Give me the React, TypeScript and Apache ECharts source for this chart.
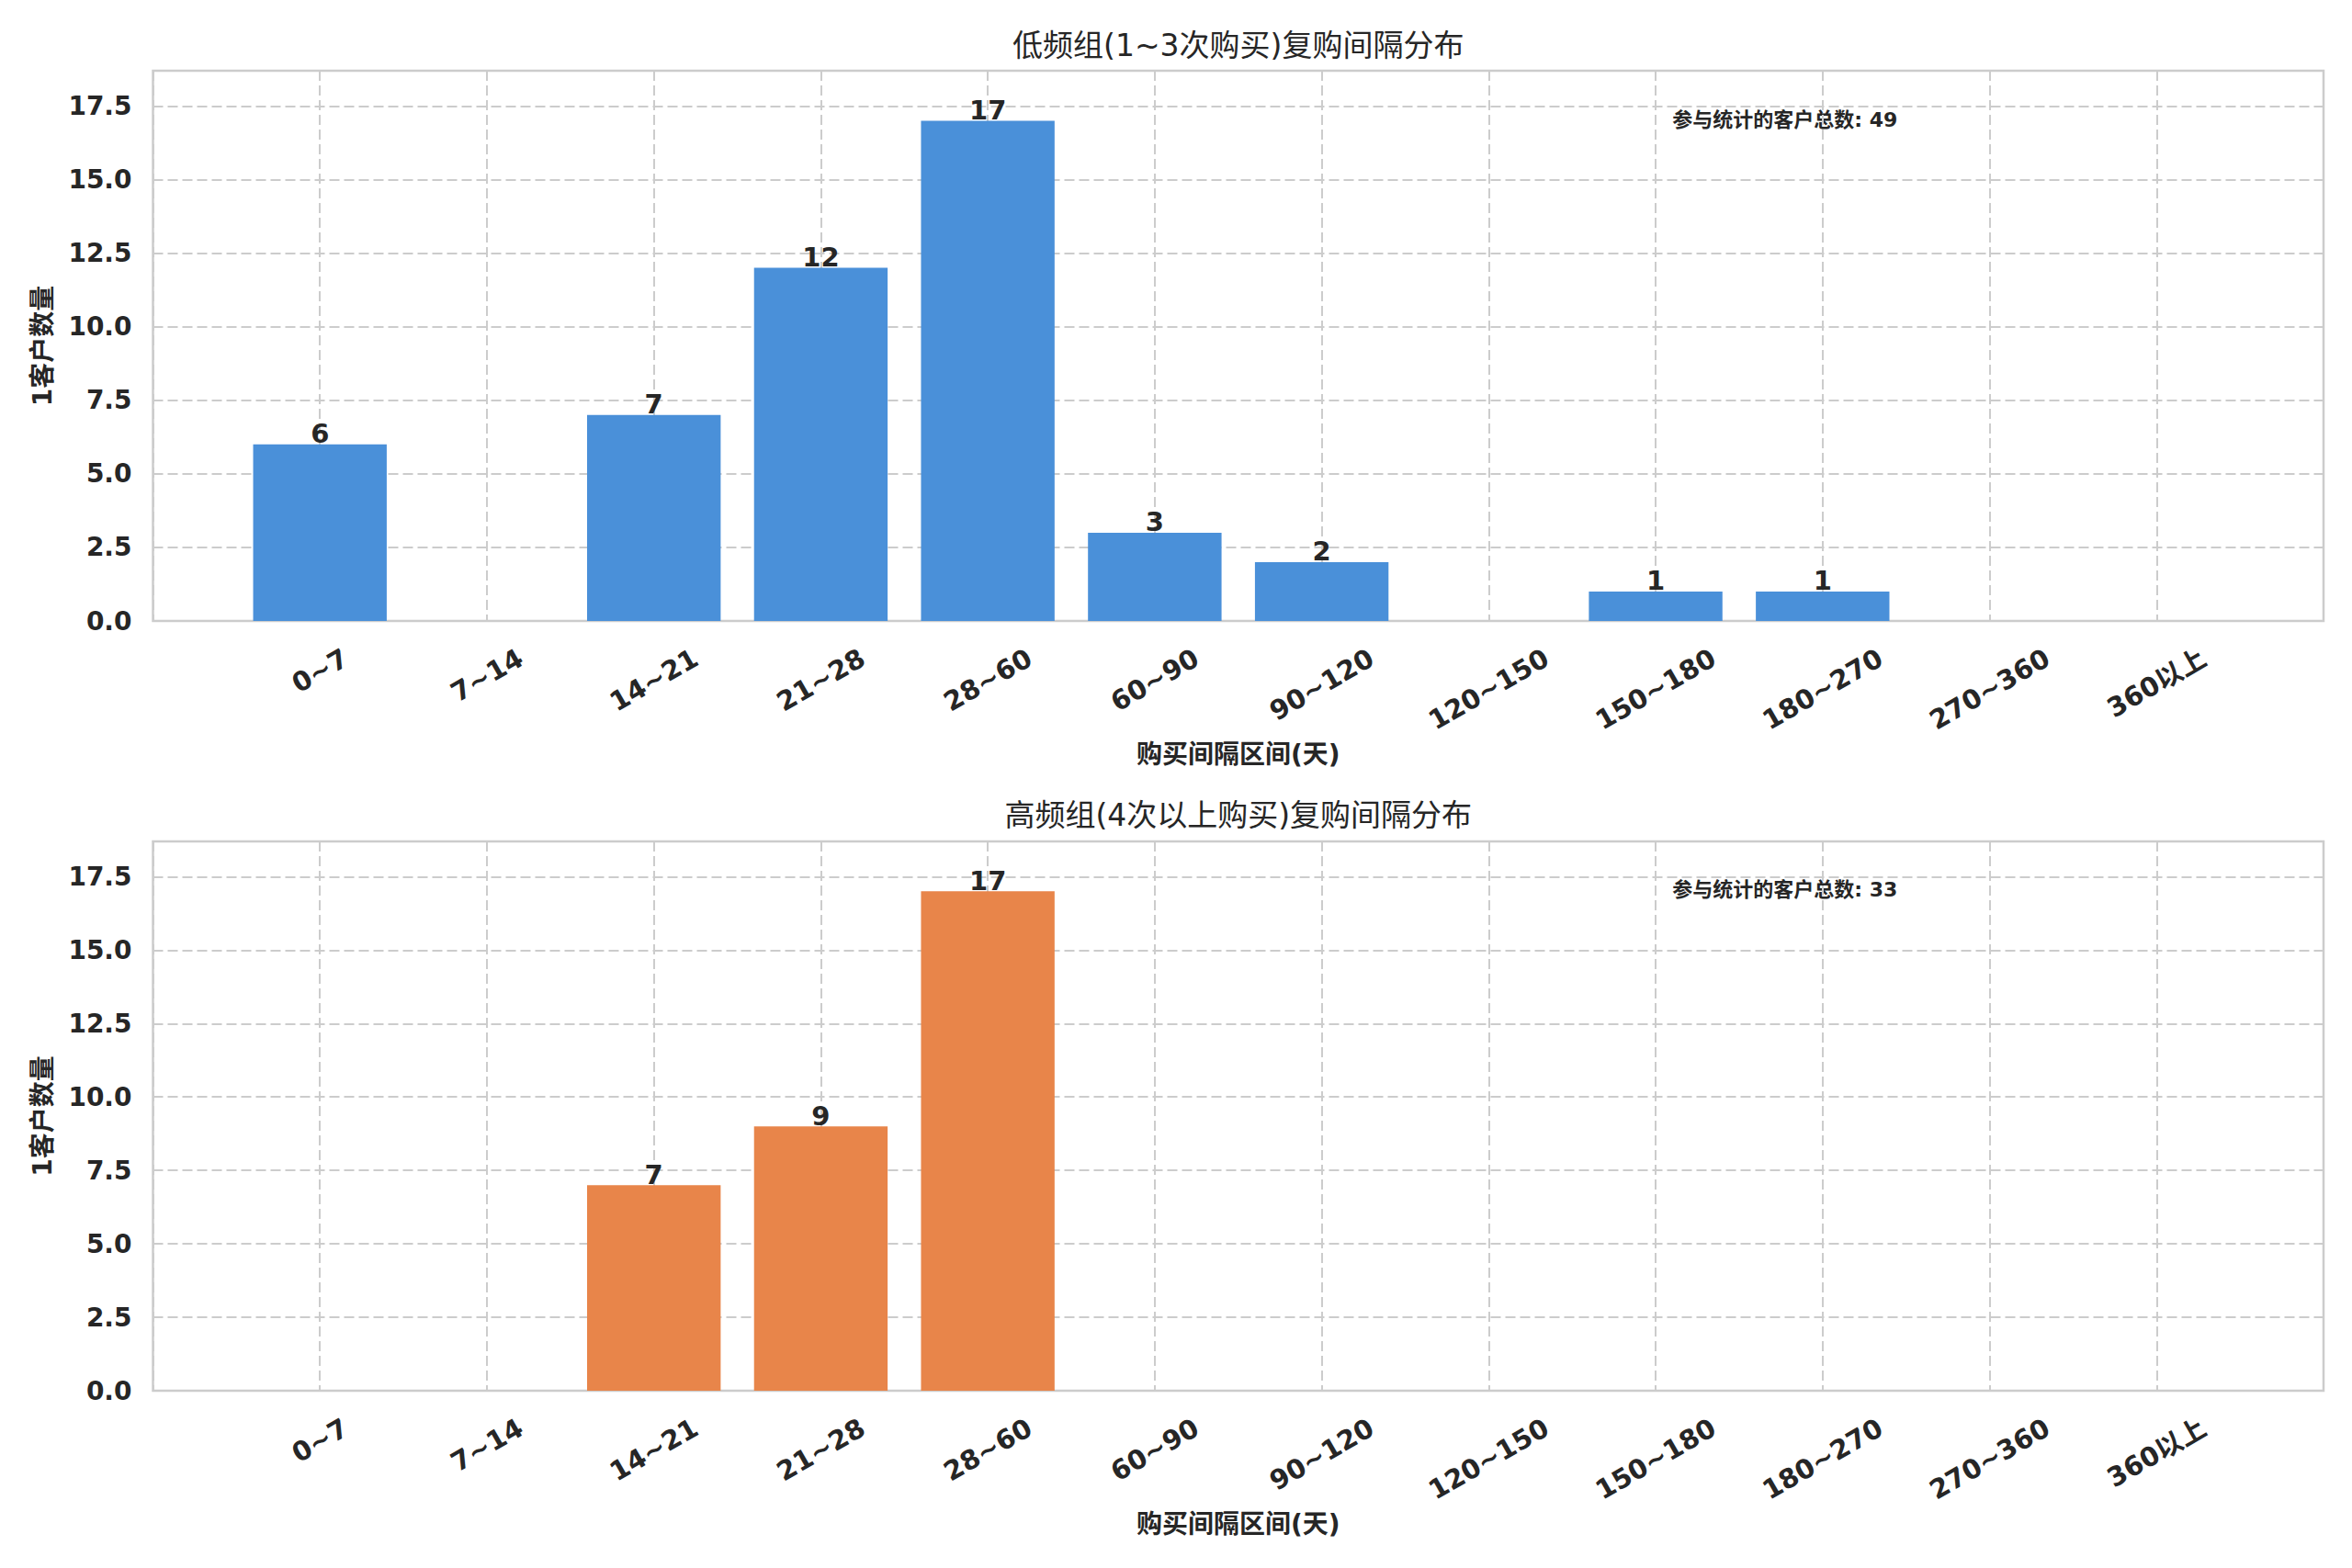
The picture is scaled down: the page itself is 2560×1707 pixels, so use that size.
import React, { useEffect, useRef } from 'react';
import * as echarts from 'echarts';

const categories = ['0~7', '7~14', '14~21', '21~28', '28~60', '60~90', '90~120', '120~150', '150~180', '180~270', '270~360', '360以上'];
const lowFreqCounts = [6, 0, 7, 12, 17, 3, 2, 0, 1, 1, 0, 0];
const highFreqCounts = [0, 0, 7, 9, 17, 0, 0, 0, 0, 0, 0, 0];
const panelTitles = ['低频组(1~3次购买)复购间隔分布', '高频组(4次以上购买)复购间隔分布'];
const xAxisTitle = '购买间隔区间(天)';
const yAxisTitle = '1客户数量';
const totalLabel = '参与统计的客户总数';
const barColors = ['#4A90D9', '#E8854A'];
const yMax = 18.7;
const yStep = 2.5;

const FONT = '"DejaVu Sans", "Noto Sans CJK SC", sans-serif';
const TEXT = '#262626';
const GRIDC = '#cccccc';

function measure(text: string, size: number): number {
  const ctx = document.createElement('canvas').getContext('2d');
  if (!ctx) return text.length * size * 0.7;
  ctx.font = `bold ${size}px ${FONT}`;
  return ctx.measureText(text).width;
}

export default function App() {
  const ref = useRef<HTMLDivElement>(null);
  useEffect(() => {
    document.body.style.margin = '0';
    if (!ref.current) return;
    const chart = echarts.init(ref.current, undefined, { renderer: 'svg' });
    const axisCats = ['', ...categories, ''];
    const rich: Record<string, any> = {};
    axisCats.forEach((c, i) => {
      const L = c ? measure(c, 29) : 0;
      const dy = 0.25 * L;
      rich['c' + i] = {
        fontSize: 29, fontWeight: 'bold', fontFamily: FONT, color: TEXT,
        padding: [Math.sqrt(3) * dy, dy, 0, 0],
      };
    });
    const plotLeft = 166.5;
    const plotWidth = 2362.5;
    const grids = [
      { left: plotLeft, top: 77, width: plotWidth, height: 599 },
      { left: plotLeft, top: 916, width: plotWidth, height: 598 },
    ];
    const datasets = [lowFreqCounts, highFreqCounts];
    const sum = (a: number[]) => a.reduce((s, v) => s + v, 0);
    const option: any = {
      animation: false,
      backgroundColor: '#ffffff',
      grid: grids.map(g => ({ ...g, show: true, borderColor: GRIDC, borderWidth: 2.5, backgroundColor: 'transparent', containLabel: false })),
      xAxis: grids.map((_, gi) => ({
        type: 'category',
        gridIndex: gi,
        data: axisCats,
        boundaryGap: false,
        axisLine: { show: false },
        axisTick: { show: false },
        axisLabel: {
          interval: 0,
          rotate: 30,
          align: 'center',
          verticalAlign: 'middle',
          margin: 38,
          formatter: (v: string, i: number) => (v ? `{c${i}|${v}}` : ''),
          rich,
        },
        splitLine: { show: true, lineStyle: { color: GRIDC, width: 2, type: [11, 5] } },
        name: xAxisTitle,
        nameLocation: 'middle',
        nameGap: 131,
        nameTextStyle: { fontSize: 28, fontWeight: 'bold', fontFamily: FONT, color: TEXT },
      })),
      yAxis: grids.map((_, gi) => ({
        type: 'value',
        gridIndex: gi,
        min: 0,
        max: yMax,
        interval: yStep,
        axisLine: { show: false },
        axisTick: { show: false },
        axisLabel: {
          margin: 23,
          fontSize: 28, fontWeight: 'bold', fontFamily: FONT, color: TEXT,
          showMaxLabel: false,
          formatter: (v: number) => (Math.abs(v / yStep - Math.round(v / yStep)) < 1e-6 ? v.toFixed(1) : ''),
        },
        splitLine: { show: true, lineStyle: { color: GRIDC, width: 2, type: [11, 5] } },
        name: yAxisTitle,
        nameLocation: 'middle',
        nameGap: 106,
        nameTextStyle: { fontSize: 28, fontWeight: 'bold', fontFamily: FONT, color: TEXT },
      })),
      series: datasets.map((d, gi) => ({
        type: 'bar',
        xAxisIndex: gi,
        yAxisIndex: gi,
        data: [null, ...d, null],
        barWidth: '80%',
        itemStyle: { color: barColors[gi], borderWidth: 0 },
        label: {
          show: true,
          position: 'top',
          distance: -3,
          fontSize: 29, fontWeight: 'bold', fontFamily: FONT, color: TEXT,
          formatter: (p: any) => (p.value ? String(p.value) : ''),
        },
      })),
      graphic: [
        ...panelTitles.map((t, gi) => ({
          type: 'text',
          x: plotLeft + plotWidth / 2,
          y: gi === 0 ? 49 : 887,
          style: { text: t, align: 'center', verticalAlign: 'middle', fontSize: 33, fontFamily: FONT, fill: TEXT },
        })),
        ...datasets.map((d, gi) => ({
          type: 'text',
          x: plotLeft + plotWidth * 0.7,
          y: gi === 0 ? 130 : 968,
          style: { text: `${totalLabel}: ${sum(d)}`, align: 'left', verticalAlign: 'middle', fontSize: 22, fontWeight: 'bold', fontFamily: FONT, fill: TEXT },
        })),
      ],
    };
    chart.setOption(option);
    return () => chart.dispose();
  }, []);
  return <div ref={ref} style={{ position: 'absolute', left: 0, top: 0, width: 2560, height: 1707 }} />;
}
